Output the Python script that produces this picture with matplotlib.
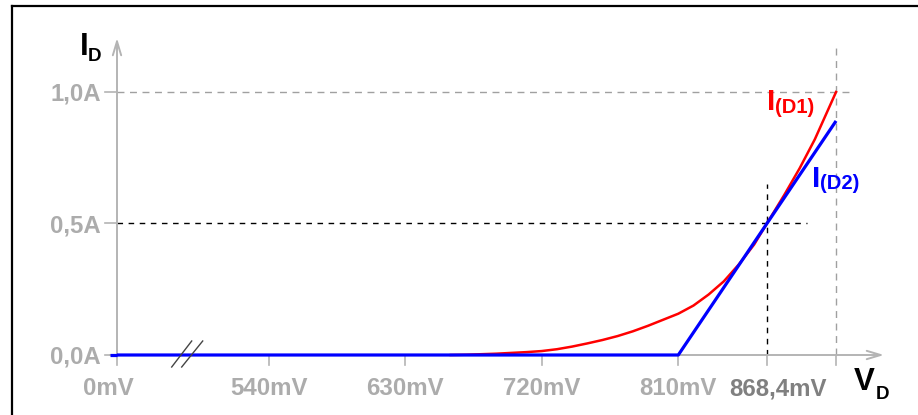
import numpy as np
import matplotlib.pyplot as plt

# diode characteristics (mV, A)
v_d1 = [660, 670, 680, 690, 700, 710, 720, 730, 740, 750, 760, 770, 780, 790, 800, 810,
        820, 830, 840, 850, 860, 868.4, 880, 890, 900, 914]
i_d1 = [0.0, 0.001, 0.003, 0.005, 0.008, 0.011, 0.015, 0.022, 0.032, 0.044, 0.057, 0.072,
        0.09, 0.111, 0.134, 0.157, 0.188, 0.23, 0.28, 0.345, 0.42, 0.5, 0.61, 0.71, 0.82, 1.0]
v_d2 = [0, 810, 914]
i_d2 = [0.0, 0.0, 0.89]

x_ticks = [0, 540, 630, 720, 810, 868.4]
x_labels = ['0mV', '540mV', '630mV', '720mV', '810mV', '868,4mV']
y_ticks = [0.0, 0.5, 1.0]
y_labels = ['0,0A', '0,5A', '1,0A']
op_point = (868.4, 0.5)     # working point, black crosshair
full_point = (914, 1.0)     # grey reference lines

BREAK = 440                 # axis is cut between 0 and ~440 mV

W, H = 918, 415
X0, Y0 = 117, 355           # pixel position of the origin
PX_MV, PX_A = 1.517, 263.0

AX_GRAY = '#b4b4b4'
LBL_GRAY = '#acacac'
FONT = 'Liberation Sans'


def to_axis(v):
    v = np.asarray(v, dtype=float)
    return np.where(v > 100, v - BREAK, v)


def px(x, y):
    # pixel position -> data coordinates (for decoration only)
    return (x - X0) / PX_MV, (Y0 - y) / PX_A


fig = plt.figure(figsize=(W / 100, H / 100), dpi=100)
ax = fig.add_axes([0, 0, 1, 1])
ax.set_xlim(px(0, 0)[0], px(W, 0)[0])
ax.set_ylim(px(0, H)[1], px(0, 0)[1])
ax.axis('off')

# frame (only left and top edges visible)
ax.plot([12 / W, 12 / W], [0, 1 - 6 / H], color='black', lw=1.6, transform=ax.transAxes, clip_on=False)
ax.plot([12 / W, 1], [1 - 6 / H, 1 - 6 / H], color='black', lw=1.6, transform=ax.transAxes, clip_on=False)

# axes with arrows
x_start = px(110, 0)[0]
ax.annotate('', xy=(px(884, 0)[0], 0), xytext=(x_start, 0),
            arrowprops=dict(arrowstyle='->,head_length=1.0,head_width=0.3', color=AX_GRAY, lw=1.4,
                            shrinkA=0, shrinkB=0))
ax.annotate('', xy=(0, px(0, 38)[1]), xytext=(0, 0),
            arrowprops=dict(arrowstyle='->,head_length=1.0,head_width=0.3', color=AX_GRAY, lw=1.4,
                            shrinkA=0, shrinkB=0))

# ticks
tick_len_y = px(0, Y0 + 10)[1]
for xt in list(to_axis(x_ticks)) + [float(to_axis(full_point[0]))]:
    ax.plot([xt, xt], [0, tick_len_y], color=AX_GRAY, lw=1.2)
for yt in y_ticks:
    ax.plot([px(105, 0)[0], 0], [yt, yt], color=AX_GRAY, lw=1.2)

# reference lines
fx = float(to_axis(full_point[0]))
ax.plot([0, px(852, 0)[0]], [full_point[1]] * 2, color='#a0a0a0', lw=1.0, ls=(0, (5, 4)))
ax.plot([fx, fx], [0, px(0, 44)[1]], color='#a0a0a0', lw=1.0, ls=(0, (5, 4)))
ox = float(to_axis(op_point[0]))
ax.plot([0, px(807, 0)[0]], [op_point[1]] * 2, color='black', lw=1.0, ls=(0, (4, 4)))
ax.plot([ox, ox], [0, px(0, 184)[1]], color='black', lw=1.0, ls=(0, (4, 4)))

# curves
ax.plot(to_axis(v_d1), i_d1, color='#ff0000', lw=1.8, zorder=3)
ax.plot(to_axis(v_d2), i_d2, color='#0000ff', lw=2.3, zorder=4, solid_capstyle='butt')
ax.plot([x_start, 0], [0, 0], color='#0000ff', lw=2.3, zorder=4, solid_capstyle='butt')

# axis break marks
for x_bot, x_top in [(171.7, 191.7), (181.7, 202.7)]:
    (a, b), (c, d) = px(x_bot, 367), px(x_top, 341)
    ax.plot([a, c], [b, d], color='#444444', lw=1.0, zorder=5)

# tick labels
for xt, lab in zip(to_axis(x_ticks), x_labels):
    dx, col = 0, LBL_GRAY
    if lab == '0mV':
        dx = -9
    if lab == '868,4mV':
        dx, col = 11, '#808080'
    ax.text(xt + dx / PX_MV, px(0, 395)[1], lab, ha='center', va='baseline',
            family=FONT, weight='bold', fontsize=17.3, color=col)
for yt, lab in zip(y_ticks, y_labels):
    ax.text(px(101, 0)[0], yt - 8.5 / PX_A, lab, ha='right', va='baseline',
            family=FONT, weight='bold', fontsize=17.3, color=LBL_GRAY)

# axis titles and curve labels


def sub_label(x, y, big, small, xs, ys, col, big_size=22.5, small_size=13.5):
    ax.text(*px(x, y), big, ha='left', va='baseline', family=FONT, weight='bold',
            fontsize=big_size, color=col)
    ax.text(*px(xs, ys), small, ha='left', va='baseline', family=FONT, weight='bold',
            fontsize=small_size, color=col)


sub_label(80, 55, 'I', 'D', 88, 61, 'black')
sub_label(854, 390, 'V', 'D', 876, 399, 'black')
sub_label(767, 110, 'I', '(D1)', 775, 113, '#ff0000', big_size=21.5, small_size=14.5)
sub_label(812, 187, 'I', '(D2)', 820, 189, '#0000ff', big_size=21.5, small_size=14.5)

fig.savefig('out.png', dpi=100)
